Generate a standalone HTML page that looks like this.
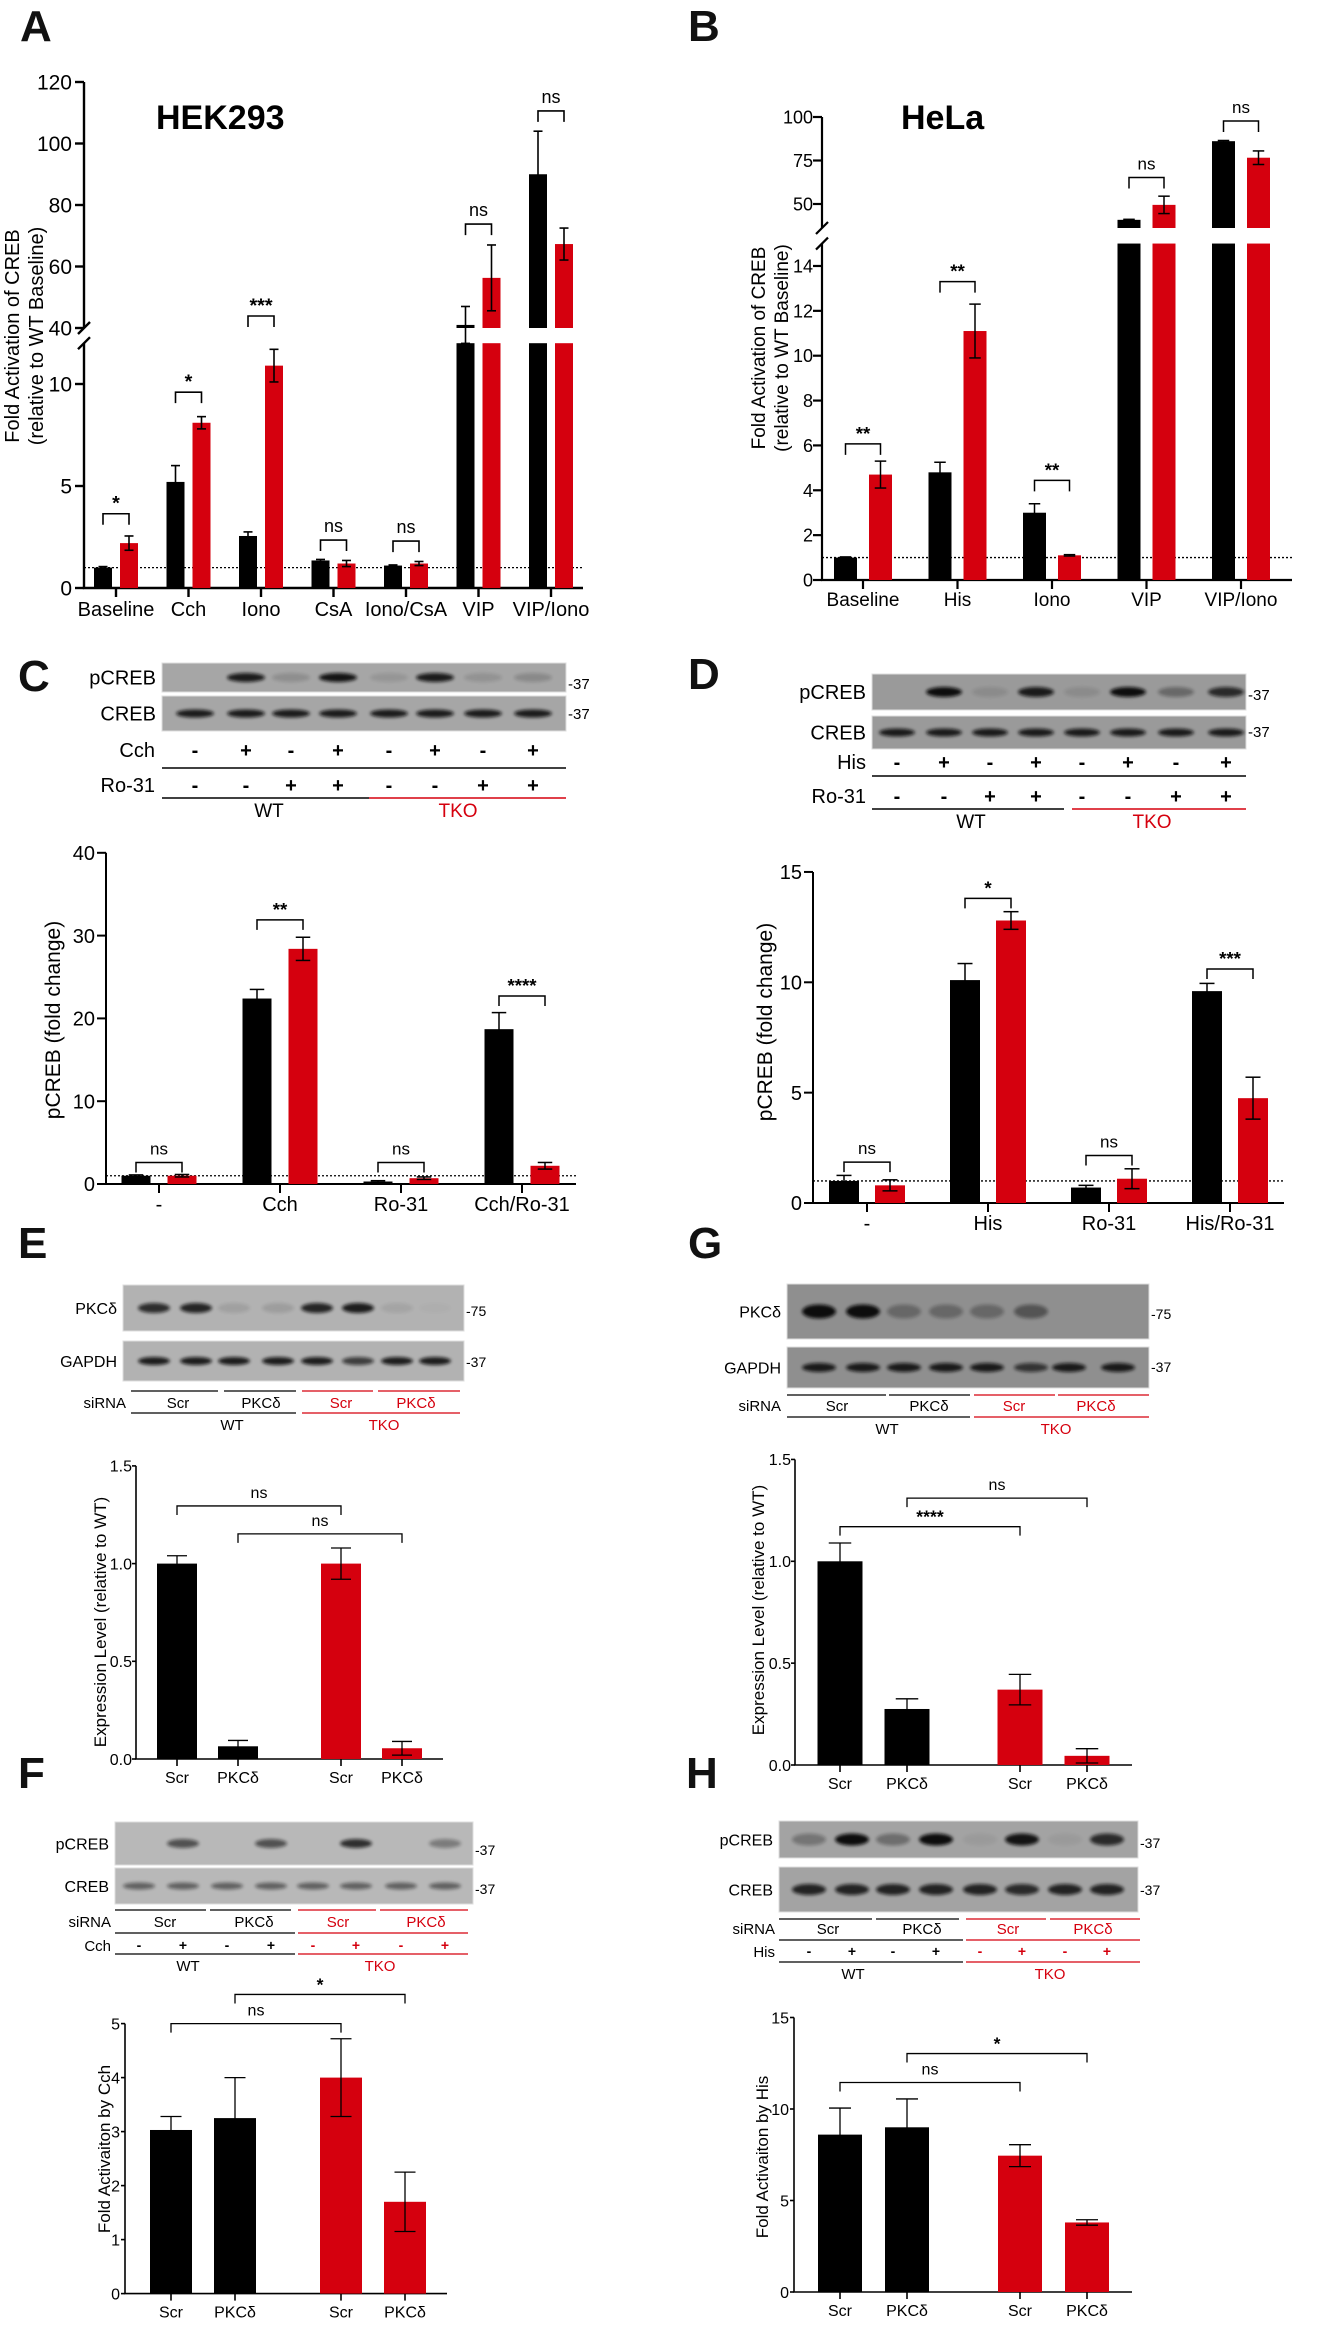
<!DOCTYPE html>
<html><head><meta charset="utf-8">
<style>
html,body{margin:0;padding:0;background:#fff;}
svg{display:block;font-family:"Liberation Sans",Arial,sans-serif;}
</style></head>
<body>
<svg id="fig" xmlns="http://www.w3.org/2000/svg" width="1332" height="2326" viewBox="0 0 1332 2326">
<defs>
<filter id="blur" x="-20%" y="-80%" width="140%" height="260%"><feGaussianBlur stdDeviation="1.6"/></filter>
</defs>
</svg>
<script>
// ---------- DATA ----------
const aCats = ['Baseline','Cch','Iono','CsA','Iono/CsA','VIP','VIP/Iono'];
const aWT = [1.0,5.2,2.55,1.35,1.1,41,90];
const aWTErr = [0.05,0.8,0.2,0.05,0.03,6,14];
const aTKO = [2.2,8.1,10.9,1.2,1.2,56.3,67.3];
const aTKOErr = [0.35,0.3,0.8,0.15,0.1,10.7,5.2];
const aSig = ['*','*','***','ns','ns','ns','ns'];
const aSigY = [3.64,9.6,43.9,2.35,2.3,73.8,110.6];
const aTicks = [0,5,10,40,60,80,100,120];

const bCats = ['Baseline','His','Iono','VIP','VIP/Iono'];
const bWT = [1.0,4.8,3.0,40.9,86.1];
const bWTErr = [0.03,0.45,0.4,0.3,0.4];
const bTKO = [4.7,11.1,1.1,49.5,76.6];
const bTKOErr = [0.6,1.2,0.03,5,3.9];
const bSig = ['**','**','**','ns','ns'];
const bSigY = [6.07,13.3,4.44,65.2,97.7];
const bTicks = [0,2,4,6,8,10,12,14,50,75,100];

const cCats = ['-','Cch','Ro-31','Cch/Ro-31'];
const cWT = [1.0,22.4,0.3,18.7];
const cWTErr = [0.1,1.1,0.1,2.0];
const cTKO = [1.0,28.4,0.7,2.2];
const cTKOErr = [0.15,1.4,0.15,0.4];
const cSig = ['ns','**','ns','****'];
const cSigY = [2.6,31.9,2.6,22.7];
const cTicks = [0,10,20,30,40];

const dCats = ['-','His','Ro-31','His/Ro-31'];
const dWT = [1.0,10.1,0.7,9.6];
const dWTErr = [0.25,0.75,0.1,0.35];
const dTKO = [0.8,12.8,1.1,4.75];
const dTKOErr = [0.25,0.4,0.45,0.95];
const dSig = ['ns','*','ns','***'];
const dSigY = [1.85,13.8,2.15,10.6];
const dTicks = [0,5,10,15];

const eCats = ['Scr','PKCδ','Scr','PKCδ'];
const eVals = [1.0,0.065,1.0,0.055];
const eErr = [0.04,0.03,0.08,0.035];
const eBrFrom = [0,1];
const eBrTo = [2,3];
const eBrY = [1.295,1.152];
const eBrLab = ['ns','ns'];
const eTicks = [0,0.5,1.0,1.5];

const gCats = ['Scr','PKCδ','Scr','PKCδ'];
const gVals = [1.0,0.275,0.37,0.045];
const gErr = [0.09,0.05,0.075,0.035];
const gBrFrom = [1,0];
const gBrTo = [3,2];
const gBrY = [1.31,1.17];
const gBrLab = ['ns','****'];
const gTicks = [0,0.5,1.0,1.5];

const fCats = ['Scr','PKCδ','Scr','PKCδ'];
const fVals = [3.03,3.25,4.0,1.7];
const fErr = [0.25,0.75,0.72,0.55];
const fBrFrom = [0,1];
const fBrTo = [2,3];
const fBrY = [5.0,5.54];
const fBrLab = ['ns','*'];
const fTicks = [0,1,2,3,4,5];

const hCats = ['Scr','PKCδ','Scr','PKCδ'];
const hVals = [8.6,9.0,7.45,3.8];
const hErr = [1.45,1.55,0.6,0.15];
const hBrFrom = [0,1];
const hBrTo = [2,3];
const hBrY = [11.45,13.03];
const hBrLab = ['ns','*'];
const hTicks = [0,5,10,15];

// blot band intensities (per lane)
const cBlotTop = [0,0.9,0.15,0.95,0.1,0.9,0.12,0.18];
const cBlotBot = [0.9,0.9,0.9,0.9,0.9,0.9,0.9,0.9];
const dBlotTop = [0,1,0.1,0.9,0.1,1,0.35,0.8];
const dBlotBot = [0.9,0.9,0.9,0.9,0.9,0.9,0.9,0.9];
const eBlotTop = [0.8,0.85,0.1,0.12,0.85,0.9,0.08,0.02];
const eBlotBot = [0.9,0.9,0.9,0.9,0.9,0.7,0.9,0.9];
const gBlotTop = [1,1,0.3,0.3,0.3,0.45,0,0];
const gBlotBot = [0.9,0.9,0.9,0.9,0.9,0.7,0.9,0.9];
const fBlotTop = [0,0.6,0,0.6,0,0.8,0,0.35];
const fBlotBot = [0.5,0.5,0.5,0.5,0.5,0.5,0.5,0.5];
const hBlotTop = [0.3,1,0.35,1,0.05,0.95,0.05,0.8];
const hBlotBot = [0.85,0.85,0.85,0.85,0.85,0.8,0.85,0.85];

// ---------- HELPERS ----------
const NS = 'http://www.w3.org/2000/svg';
const svg = document.getElementById('fig');
const RED = '#d5000e';
function mk(tag, attrs, parent){
  const e = document.createElementNS(NS, tag);
  for (const k in attrs) e.setAttribute(k, attrs[k]);
  (parent || svg).appendChild(e);
  return e;
}
function txt(x, y, s, size, anchor, fill, weight, name, rot){
  const t = mk('text', {x:x, y:y, 'font-size':size, 'text-anchor':anchor||'middle', fill:fill||'#000', 'font-weight':weight||'normal'});
  if (rot) t.setAttribute('transform', 'rotate(-90 ' + x + ' ' + y + ')');
  t.textContent = s;
  
  
  return t;
}
function line(x1, y1, x2, y2, w, col, name, dash){
  const l = mk('line', {x1:x1, y1:y1, x2:x2, y2:y2, stroke:col||'#000', 'stroke-width':w});
  if (dash) l.setAttribute('stroke-dasharray', dash);
  
  
  return l;
}
function rect(x, y, w, h, fill, name){
  const r = mk('rect', {x:x, y:y, width:w, height:Math.max(0,h), fill:fill});
  
  
  return r;
}
function panelLetter(x, y, s){
  txt(x, y, s, 44, 'start', '#111', 'bold', 'panel-label-' + s.toLowerCase());
}

function drawAxes(c){
  const g = c.scale;
  const tl = c.tl || 9, tg = c.tg || 11;
  if (c.broken){
    line(c.ax, c.y0, c.ax, g(c.lowTopV), c.aw, '#000', 'y-axis-lower');
    line(c.ax, c.upBottomY, c.ax, g(c.topV), c.aw, '#000', 'y-axis-upper');
    line(c.ax-6, g(c.lowTopV)+6, c.ax+6, g(c.lowTopV)-6, c.aw, '#000', 'axis-break-mark');
    line(c.ax-6, c.upBottomY+6, c.ax+6, c.upBottomY-6, c.aw, '#000', 'axis-break-mark');
  } else {
    line(c.ax, c.y0, c.ax, g(c.topV), c.aw, '#000', 'y-axis');
  }
  line(c.ax - c.aw/2, c.y0, c.xEnd, c.y0, c.aw, '#000', 'x-axis');
  c.ticks.forEach(function(v){
    const y = g(v);
    line(c.ax - tl, y, c.ax, y, c.aw, '#000', 'y-tick');
    txt(c.ax - tg, y + c.fs*0.36, c.tickFmt ? c.tickFmt(v) : String(v), c.fs, 'end', '#000', 'normal', 'y-tick-label');
  });
}
function errBar(x, ye, ylow, cap, w, name){
  line(x, ylow, x, ye, w, '#000', name);
  line(x - cap/2, ye, x + cap/2, ye, w, '#000', name + '-cap');
  line(x - cap/2, ylow, x + cap/2, ylow, w, '#000', name + '-cap');
}
function bar(c, x, v, err, col, name){
  const g = c.scale;
  if (c.broken && v > c.lowTopV){
    rect(x - c.bw/2, g(c.lowTopV), c.bw, c.y0 - g(c.lowTopV), col, name);
    rect(x - c.bw/2, g(v), c.bw, c.upBottomY - g(v), col, name + '-upper');
  } else {
    rect(x - c.bw/2, g(v), c.bw, c.y0 - g(v), col, name);
  }
  errBar(x, g(v + err), g(Math.max(0, v - err)), c.bw*0.5, c.ew, name + '-error');
}
function bracket(x1, x2, y, lab, c){
  const d = c.drop;
  const p = mk('path', {d:'M'+x1+' '+(y+d)+' V'+y+' H'+x2+' V'+(y+d), fill:'none', stroke:'#000', 'stroke-width':c.ew});
  
  
  const star = lab.indexOf('*') >= 0;
  txt((x1+x2)/2, star ? y - 4 : y - 8, lab, star ? c.sfs*1.1 : c.sfs, 'middle', '#000', star ? 'bold':'normal', 'significance-label');
}
function pairedChart(c, cats, wt, wtErr, tko, tkoErr, sig, sigY){
  drawAxes(c);
  line(c.ax, c.scale(1), c.xEnd, c.scale(1), 1.3, '#000', 'baseline-dotted-line', '2,2');
  cats.forEach(function(cat, i){
    const tx = c.first + i*c.step;
    line(tx, c.y0, tx, c.y0 + 9, c.aw, '#000', 'x-tick');
    txt(tx, c.y0 + c.lab, cat, c.xfs, 'middle', '#000', 'normal', 'x-tick-label');
    bar(c, tx - c.off, wt[i], wtErr[i], '#000', 'bar-wt-' + i);
    bar(c, tx + c.off, tko[i], tkoErr[i], RED, 'bar-tko-' + i);
    bracket(tx - c.off, tx + c.off, c.scale(sigY[i]), sig[i], c);
  });
}
function fourChart(c, cats, vals, errs, bf, bt, by, bl){
  drawAxes(c);
  const xs = cats.map(function(_, i){ return c.first + i*c.step + (i >= 2 ? c.gap : 0); });
  cats.forEach(function(cat, i){
    line(xs[i], c.y0, xs[i], c.y0 + 7, c.aw, '#000', 'x-tick');
    txt(xs[i], c.y0 + c.lab, cat, c.xfs, 'middle', '#000', 'normal', 'x-tick-label');
    bar(c, xs[i], vals[i], errs[i], i < 2 ? '#000' : RED, 'bar-' + i);
  });
  bf.forEach(function(f, k){
    bracket(xs[f], xs[bt[k]], c.scale(by[k]), bl[k], c);
  });
}
function blot(b, top, bot){
  const bg1 = rect(b.x, b.y1, b.w, b.h1, b.bg, 'blot-top-strip');
  bg1.setAttribute('stroke', '#ddd');
  const bg2 = rect(b.x, b.y2, b.w, b.h2, b.bg, 'blot-bottom-strip');
  bg2.setAttribute('stroke', '#ddd');
  [[top, b.y1 + b.h1*0.5, b.bh1],[bot, b.y2 + b.h2*0.5, b.bh2]].forEach(function(row, r){
    row[0].forEach(function(v, i){
      if (v <= 0) return;
      const e = mk('ellipse', {cx:b.lanes[i], cy:row[1], rx:b.bwid/2, ry:row[2]/2, fill:'#111', opacity:v, filter:'url(#blur)'});
      
      
    });
  });
  txt(b.x - 6, b.y1 + b.h1*0.5 + b.fs*0.36, b.l1, b.fs, 'end', '#000', 'normal', 'blot-label-top');
  txt(b.x - 6, b.y2 + b.h2*0.5 + b.fs*0.36, b.l2, b.fs, 'end', '#000', 'normal', 'blot-label-bottom');
  txt(b.x + b.w + 2, b.m1y, b.m1, b.mfs, 'start', '#000', 'normal', 'mw-marker');
  txt(b.x + b.w + 2, b.m2y, b.m2, b.mfs, 'start', '#000', 'normal', 'mw-marker');
}
function signRow(lanes, y, signs, fs, redFrom){
  signs.forEach(function(s, i){
    txt(lanes[i], y, s, fs, 'middle', (redFrom !== undefined && i >= redFrom) ? RED : '#000', 'bold', 'treatment-sign');
  });
}

// ---------- PANEL A ----------
panelLetter(20, 41, 'A');
txt(156, 129, 'HEK293', 34, 'start', '#000', 'bold', 'cell-line-title-hek293');
txt(19, 336, 'Fold Activation of CREB', 20, 'middle', '#000', 'normal', 'y-axis-title-line1', true);
txt(43, 336, '(relative to WT Baseline)', 20, 'middle', '#000', 'normal', 'y-axis-title-line2', true);
const cfgA = {ax:84, xEnd:583, y0:588, topV:120, broken:true, lowTopV:12.0, upBottomY:328,
  scale:function(v){ return v <= 12.0 ? 588 - v*20.4 : 328 - (v-40)*3.075; },
  ticks:aTicks, fs:21, xfs:20, lab:28, aw:2.4, ew:1.6, bw:18, off:13, first:116, step:72.5, drop:11, sfs:18, tg:12};
pairedChart(cfgA, aCats, aWT, aWTErr, aTKO, aTKOErr, aSig, aSigY);

// ---------- PANEL B ----------
panelLetter(688, 41, 'B');
txt(901, 129, 'HeLa', 34, 'start', '#000', 'bold', 'cell-line-title-hela');
txt(765, 348, 'Fold Activation of CREB', 19, 'middle', '#000', 'normal', 'y-axis-title-line1', true);
txt(788, 348, '(relative to WT Baseline)', 19, 'middle', '#000', 'normal', 'y-axis-title-line2', true);
const cfgB = {ax:822, xEnd:1292, y0:580, topV:100, broken:true, lowTopV:15.0, upBottomY:228,
  scale:function(v){ return v <= 15.0 ? 580 - v*22.43 : 204 - (v-50)*1.74; },
  ticks:bTicks, fs:18, xfs:19, lab:26, aw:2.2, ew:1.5, bw:23, off:17.5, first:863, step:94.5, drop:11, sfs:17, tg:9};
pairedChart(cfgB, bCats, bWT, bWTErr, bTKO, bTKOErr, bSig, bSigY);

// ---------- PANEL C ----------
panelLetter(18, 691, 'C');
const lanesC = [195,246,291,338,389,435,483,533];
blot({x:162, y1:663, h1:29, y2:696, h2:35, w:404, bg:'#a6a6a6', lanes:lanesC, bwid:38, bh1:9, bh2:8,
  l1:'pCREB', l2:'CREB', fs:20, m1:'-37', m2:'-37', m1y:689, m2y:719, mfs:15}, cBlotTop, cBlotBot);
txt(155, 757, 'Cch', 20, 'end', '#000', 'normal', 'treatment-label-cch');
signRow(lanesC, 757, ['-','+','-','+','-','+','-','+'], 20);
line(162, 768, 566, 768, 1.5, '#000', 'row-divider');
txt(155, 792, 'Ro-31', 20, 'end', '#000', 'normal', 'treatment-label-ro31');
signRow(lanesC, 792, ['-','-','+','+','-','-','+','+'], 20);
line(162, 798, 369, 798, 1.5, '#000', 'wt-group-line');
line(369, 798, 566, 798, 1.5, RED, 'tko-group-line');
txt(269, 817, 'WT', 19, 'middle', '#000', 'normal', 'group-label-wt');
txt(458, 817, 'TKO', 19, 'middle', RED, 'normal', 'group-label-tko');
txt(60, 1020, 'pCREB (fold change)', 21, 'middle', '#000', 'normal', 'y-axis-title', true);
const cfgC = {ax:106, xEnd:576, y0:1184, topV:40, scale:function(v){ return 1184 - v*8.28; },
  ticks:cTicks, fs:20, xfs:20, lab:27, aw:2, ew:1.5, bw:29, off:23, first:159, step:121, drop:10, sfs:17};
pairedChart(cfgC, cCats, cWT, cWTErr, cTKO, cTKOErr, cSig, cSigY);

// ---------- PANEL D ----------
panelLetter(688, 689, 'D');
const lanesD = [897,944,990,1036,1082,1128,1176,1226];
blot({x:872, y1:674, h1:36, y2:716, h2:33, w:374, bg:'#9a9a9a', lanes:lanesD, bwid:36, bh1:10, bh2:8,
  l1:'pCREB', l2:'CREB', fs:20, m1:'-37', m2:'-37', m1y:700, m2y:737, mfs:15}, dBlotTop, dBlotBot);
txt(866, 769, 'His', 20, 'end', '#000', 'normal', 'treatment-label-his');
signRow(lanesD, 769, ['-','+','-','+','-','+','-','+'], 20);
line(872, 776, 1246, 776, 1.5, '#000', 'row-divider');
txt(866, 803, 'Ro-31', 20, 'end', '#000', 'normal', 'treatment-label-ro31');
signRow(lanesD, 803, ['-','-','+','+','-','-','+','+'], 20);
line(872, 809, 1064, 809, 1.5, '#000', 'wt-group-line');
line(1072, 809, 1246, 809, 1.5, RED, 'tko-group-line');
txt(971, 828, 'WT', 19, 'middle', '#000', 'normal', 'group-label-wt');
txt(1152, 828, 'TKO', 19, 'middle', RED, 'normal', 'group-label-tko');
txt(772, 1022, 'pCREB (fold change)', 21, 'middle', '#000', 'normal', 'y-axis-title', true);
const cfgD = {ax:813, xEnd:1284, y0:1203, topV:15, scale:function(v){ return 1203 - v*22.07; },
  ticks:dTicks, fs:20, xfs:20, lab:27, aw:2, ew:1.5, bw:30, off:23, first:867, step:121, drop:10, sfs:17};
pairedChart(cfgD, dCats, dWT, dWTErr, dTKO, dTKOErr, dSig, dSigY);

// ---------- PANEL E ----------
panelLetter(18, 1258, 'E');
const lanesE = [154,196,234,278,317,358,397,435];
blot({x:123, y1:1285, h1:46, y2:1341, h2:40, w:341, bg:'#b2b2b2', lanes:lanesE, bwid:32, bh1:10, bh2:8,
  l1:'PKCδ', l2:'GAPDH', fs:16, m1:'-75', m2:'-37', m1y:1316, m2y:1367, mfs:14}, eBlotTop, eBlotBot);
line(131, 1391, 218, 1391, 1.3, '#000', 'sirna-line');
line(224, 1391, 296, 1391, 1.3, '#000', 'sirna-line');
line(302, 1391, 373, 1391, 1.3, RED, 'sirna-line');
line(378, 1391, 460, 1391, 1.3, RED, 'sirna-line');
txt(126, 1408, 'siRNA', 15, 'end', '#000', 'normal', 'sirna-label');
txt(178, 1408, 'Scr', 15, 'middle', '#000', 'normal', 'sirna-scr');
txt(261, 1408, 'PKCδ', 15, 'middle', '#000', 'normal', 'sirna-pkcd');
txt(341, 1408, 'Scr', 15, 'middle', RED, 'normal', 'sirna-scr');
txt(416, 1408, 'PKCδ', 15, 'middle', RED, 'normal', 'sirna-pkcd');
line(131, 1413, 296, 1413, 1.3, '#000', 'wt-group-line');
line(302, 1413, 460, 1413, 1.3, RED, 'tko-group-line');
txt(232, 1430, 'WT', 15, 'middle', '#000', 'normal', 'group-label-wt');
txt(384, 1430, 'TKO', 15, 'middle', RED, 'normal', 'group-label-tko');
txt(106, 1622, 'Expression Level (relative to WT)', 17, 'middle', '#000', 'normal', 'y-axis-title', true);
const cfgE = {ax:136, xEnd:443, y0:1759, topV:1.5, scale:function(v){ return 1759 - v*195.4; },
  ticks:eTicks, tickFmt:function(v){ return v.toFixed(1); }, fs:16, xfs:16, lab:24, aw:1.6, ew:1.3, bw:40,
  first:177, step:61, gap:42, drop:9, sfs:16, tl:4, tg:4};
fourChart(cfgE, eCats, eVals, eErr, eBrFrom, eBrTo, eBrY, eBrLab);

// ---------- PANEL G ----------
panelLetter(688, 1258, 'G');
const lanesG = [819,863,904,946,987,1031,1069,1118];
blot({x:787, y1:1284, h1:55, y2:1347, h2:41, w:362, bg:'#8f8f8f', lanes:lanesG, bwid:34, bh1:14, bh2:9,
  l1:'PKCδ', l2:'GAPDH', fs:16, m1:'-75', m2:'-37', m1y:1319, m2y:1372, mfs:14}, gBlotTop, gBlotBot);
line(787, 1395, 886, 1395, 1.3, '#000', 'sirna-line');
line(889, 1395, 970, 1395, 1.3, '#000', 'sirna-line');
line(974, 1395, 1055, 1395, 1.3, RED, 'sirna-line');
line(1058, 1395, 1149, 1395, 1.3, RED, 'sirna-line');
txt(781, 1411, 'siRNA', 15, 'end', '#000', 'normal', 'sirna-label');
txt(837, 1411, 'Scr', 15, 'middle', '#000', 'normal', 'sirna-scr');
txt(929, 1411, 'PKCδ', 15, 'middle', '#000', 'normal', 'sirna-pkcd');
txt(1014, 1411, 'Scr', 15, 'middle', RED, 'normal', 'sirna-scr');
txt(1096, 1411, 'PKCδ', 15, 'middle', RED, 'normal', 'sirna-pkcd');
line(787, 1417, 970, 1417, 1.3, '#000', 'wt-group-line');
line(974, 1417, 1149, 1417, 1.3, RED, 'tko-group-line');
txt(887, 1434, 'WT', 15, 'middle', '#000', 'normal', 'group-label-wt');
txt(1056, 1434, 'TKO', 15, 'middle', RED, 'normal', 'group-label-tko');
txt(764, 1610, 'Expression Level (relative to WT)', 17, 'middle', '#000', 'normal', 'y-axis-title', true);
const cfgG = {ax:795, xEnd:1132, y0:1765, topV:1.5, scale:function(v){ return 1765 - v*203.7; },
  ticks:gTicks, tickFmt:function(v){ return v.toFixed(1); }, fs:16, xfs:16, lab:24, aw:1.6, ew:1.3, bw:45,
  first:840, step:67, gap:46, drop:9, sfs:16, tl:4, tg:4};
fourChart(cfgG, gCats, gVals, gErr, gBrFrom, gBrTo, gBrY, gBrLab);

// ---------- PANEL F ----------
panelLetter(18, 1788, 'F');
const lanesF = [139,183,227,271,313,356,401,445];
blot({x:115, y1:1822, h1:43, y2:1868, h2:36, w:358, bg:'#b8b8b8', lanes:lanesF, bwid:32, bh1:9, bh2:7,
  l1:'pCREB', l2:'CREB', fs:16, m1:'-37', m2:'-37', m1y:1855, m2y:1894, mfs:14}, fBlotTop, fBlotBot);
line(115, 1910, 206, 1910, 1.3, '#000', 'sirna-line');
line(210, 1910, 291, 1910, 1.3, '#000', 'sirna-line');
line(298, 1910, 376, 1910, 1.3, RED, 'sirna-line');
line(380, 1910, 468, 1910, 1.3, RED, 'sirna-line');
txt(111, 1927, 'siRNA', 15, 'end', '#000', 'normal', 'sirna-label');
txt(165, 1927, 'Scr', 15, 'middle', '#000', 'normal', 'sirna-scr');
txt(254, 1927, 'PKCδ', 15, 'middle', '#000', 'normal', 'sirna-pkcd');
txt(338, 1927, 'Scr', 15, 'middle', RED, 'normal', 'sirna-scr');
txt(426, 1927, 'PKCδ', 15, 'middle', RED, 'normal', 'sirna-pkcd');
line(115, 1933, 295, 1933, 1.3, '#000', 'row-divider');
line(298, 1933, 468, 1933, 1.3, RED, 'row-divider');
txt(111, 1951, 'Cch', 15, 'end', '#000', 'normal', 'treatment-label-cch');
signRow(lanesF, 1950, ['-','+','-','+','-','+','-','+'], 14, 4);
line(115, 1954, 295, 1954, 1.3, '#000', 'wt-group-line');
line(298, 1954, 468, 1954, 1.3, RED, 'tko-group-line');
txt(188, 1971, 'WT', 15, 'middle', '#000', 'normal', 'group-label-wt');
txt(380, 1971, 'TKO', 15, 'middle', RED, 'normal', 'group-label-tko');
txt(110, 2149, 'Fold Activaiton by Cch', 17, 'middle', '#000', 'normal', 'y-axis-title', true);
const cfgF = {ax:125, xEnd:447, y0:2293.6, topV:5, scale:function(v){ return 2293.6 - v*54; },
  ticks:fTicks, fs:16, xfs:16, lab:24, aw:1.6, ew:1.3, bw:42,
  first:171, step:64, gap:42, drop:9, sfs:16, tl:4, tg:5};
fourChart(cfgF, fCats, fVals, fErr, fBrFrom, fBrTo, fBrY, fBrLab);

// ---------- PANEL H ----------
panelLetter(686, 1788, 'H');
const lanesH = [809,852,893,936,980,1022,1065,1107];
blot({x:779, y1:1821, h1:37, y2:1867, h2:45, w:359, bg:'#a3a3a3', lanes:lanesH, bwid:34, bh1:12, bh2:11,
  l1:'pCREB', l2:'CREB', fs:16, m1:'-37', m2:'-37', m1y:1848, m2y:1895, mfs:14}, hBlotTop, hBlotBot);
line(779, 1919, 872, 1919, 1.3, '#000', 'sirna-line');
line(876, 1919, 959, 1919, 1.3, '#000', 'sirna-line');
line(966, 1919, 1046, 1919, 1.3, RED, 'sirna-line');
line(1050, 1919, 1140, 1919, 1.3, RED, 'sirna-line');
txt(775, 1934, 'siRNA', 15, 'end', '#000', 'normal', 'sirna-label');
txt(828, 1934, 'Scr', 15, 'middle', '#000', 'normal', 'sirna-scr');
txt(922, 1934, 'PKCδ', 15, 'middle', '#000', 'normal', 'sirna-pkcd');
txt(1008, 1934, 'Scr', 15, 'middle', RED, 'normal', 'sirna-scr');
txt(1093, 1934, 'PKCδ', 15, 'middle', RED, 'normal', 'sirna-pkcd');
line(779, 1940, 963, 1940, 1.3, '#000', 'row-divider');
line(966, 1940, 1140, 1940, 1.3, RED, 'row-divider');
txt(775, 1957, 'His', 15, 'end', '#000', 'normal', 'treatment-label-his');
signRow(lanesH, 1956, ['-','+','-','+','-','+','-','+'], 14, 4);
line(779, 1962, 963, 1962, 1.3, '#000', 'wt-group-line');
line(966, 1962, 1140, 1962, 1.3, RED, 'tko-group-line');
txt(853, 1979, 'WT', 15, 'middle', '#000', 'normal', 'group-label-wt');
txt(1050, 1979, 'TKO', 15, 'middle', RED, 'normal', 'group-label-tko');
txt(768, 2157, 'Fold Activaiton by His', 17, 'middle', '#000', 'normal', 'y-axis-title', true);
const cfgH = {ax:794, xEnd:1132, y0:2292, topV:15, scale:function(v){ return 2292 - v*18.3; },
  ticks:hTicks, fs:16, xfs:16, lab:24, aw:1.6, ew:1.3, bw:44,
  first:840, step:67, gap:46, drop:9, sfs:16, tl:4, tg:5};
fourChart(cfgH, hCats, hVals, hErr, hBrFrom, hBrTo, hBrY, hBrLab);
</script>
</body></html>
